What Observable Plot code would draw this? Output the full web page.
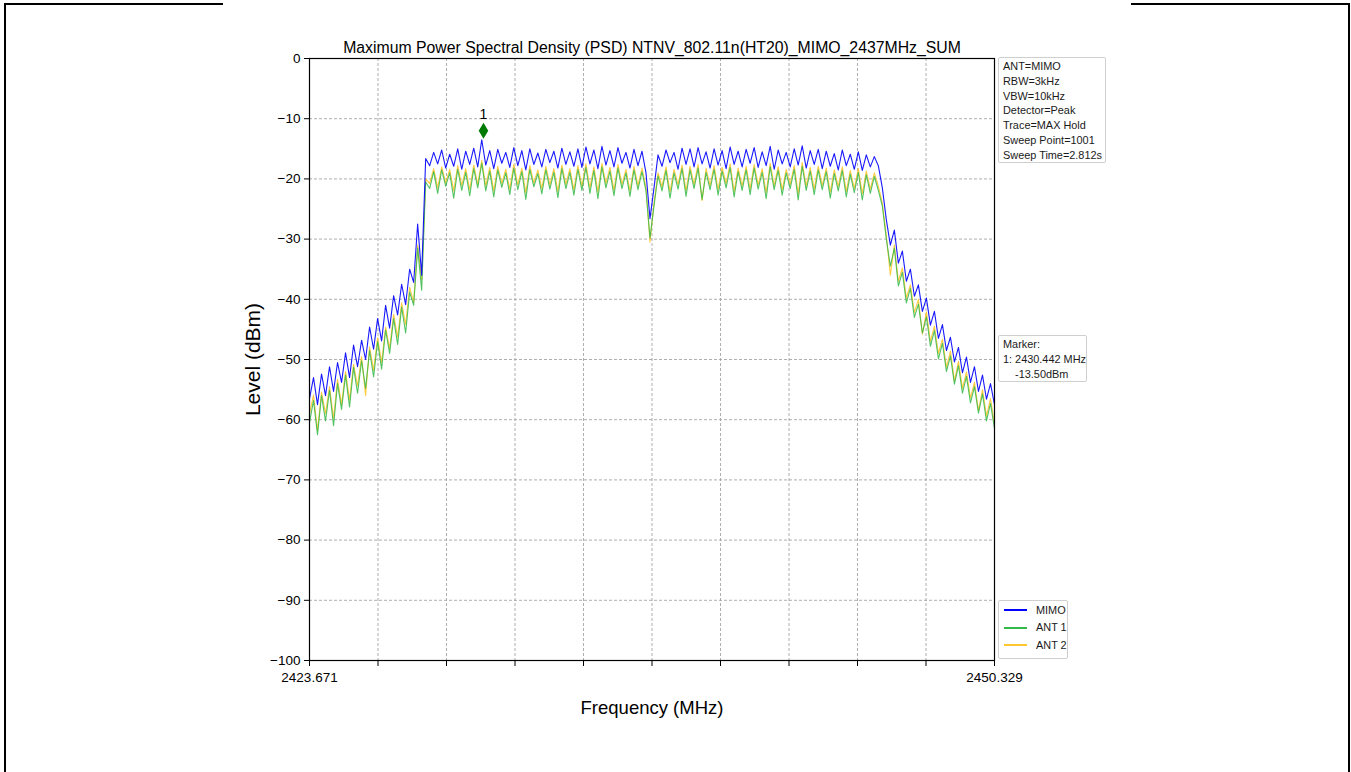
<!DOCTYPE html>
<html><head><meta charset="utf-8">
<script src="https://cdn.jsdelivr.net/npm/d3@7"></script>
<script src="https://cdn.jsdelivr.net/npm/@observablehq/plot@0.6"></script>
<style>
body{margin:0;background:#fff;font-family:"Liberation Sans",Arial,sans-serif;}
#page{position:relative;width:1351px;height:772px;overflow:hidden;background:#fff;}
#chart{position:absolute;left:0;top:0;}
.rule{position:absolute;background:#000;}
.box{position:absolute;box-sizing:border-box;background:rgba(255,255,255,0.85);border:1px solid #cfcfcf;border-radius:2px;font-size:10.9px;color:#1a1a1a;white-space:pre;}
.leg{display:flex;align-items:center;height:17.5px;}
.sw{width:23px;height:2px;margin-right:9px;}
</style></head><body><div id="page"><div id="chart"></div></div>
<script>
// ---- data ----
const freqStart = 2423.671, freqStop = 2450.329;
const xTickLabels = ["2423.671", "2450.329"];
const yTicks = [-100, -90, -80, -70, -60, -50, -40, -30, -20, -10, 0];
const seriesNames = ["MIMO", "ANT 1", "ANT 2"];
const titleText = "Maximum Power Spectral Density (PSD) NTNV_802.11n(HT20)_MIMO_2437MHz_SUM";
const xLabel = "Frequency (MHz)";
const yLabel = "Level (dBm)";
const markerFreq = [2430.442];
const markerLevel = [-13.50];
const markerName = ["1"];
const infoLines = ["ANT=MIMO", "RBW=3kHz", "VBW=10kHz", "Detector=Peak", "Trace=MAX Hold", "Sweep Point=1001", "Sweep Time=2.812s"];
const markerLines = ["Marker:", "1: 2430.442 MHz", "    -13.50dBm"];

const mimo = [
-56.5,-53.0,-57.5,-52.4,-56.0,-51.2,-55.3,-50.5,-53.8,-48.9,
-53.0,-47.6,-51.2,-46.8,-50.0,-44.6,-48.3,-43.2,-46.9,-41.0,
-44.8,-39.4,-42.6,-37.5,-40.9,-35.0,-37.2,-27.5,-36.0,-16.6,
-17.8,-15.6,-17.5,-15.2,-18.2,-15.9,-17.9,-15.0,-18.4,-15.4,
-17.6,-14.9,-18.0,-13.5,-17.7,-15.3,-18.3,-15.1,-17.4,-15.6,
-18.1,-14.8,-17.8,-15.3,-18.5,-15.0,-17.6,-15.7,-18.0,-15.1,
-17.3,-15.4,-18.2,-14.9,-17.6,-15.5,-17.9,-15.0,-18.1,-14.7,
-17.5,-15.2,-18.3,-14.6,-17.7,-15.3,-18.0,-14.8,-17.4,-15.6,
-18.2,-15.1,-17.8,-15.4,-19.0,-26.6,-21.5,-16.0,-17.9,-15.2,
-17.3,-15.6,-18.4,-14.9,-17.6,-15.0,-18.0,-14.8,-17.5,-15.5,
-18.2,-15.0,-17.7,-15.3,-18.3,-14.7,-17.6,-15.4,-18.0,-15.1,
-17.4,-14.8,-18.1,-15.5,-17.8,-14.6,-18.4,-15.2,-17.5,-15.6,
-18.0,-15.0,-17.7,-14.5,-18.2,-15.3,-17.6,-15.1,-18.3,-15.4,
-17.9,-15.8,-18.5,-15.2,-17.8,-15.9,-18.4,-15.5,-18.6,-16.0,
-18.0,-16.3,-17.8,-21.5,-26.8,-31.0,-28.5,-34.0,-32.0,-37.0,
-35.0,-39.5,-37.6,-42.0,-39.8,-44.3,-42.0,-46.5,-44.2,-48.5,
-46.3,-50.4,-48.0,-52.2,-49.6,-53.8,-51.2,-55.3,-52.6,-56.6,
-54.0,-57.5];

const ant1 = [
-60.5,-56.8,-62.5,-56.0,-60.2,-55.1,-61.0,-54.0,-58.3,-52.6,
-57.9,-51.3,-55.6,-50.2,-54.8,-48.5,-52.9,-47.0,-51.6,-45.1,
-49.0,-43.2,-47.5,-41.3,-45.6,-38.8,-41.0,-31.5,-38.5,-20.5,
-21.6,-18.8,-22.4,-18.5,-21.2,-19.0,-23.2,-18.4,-21.9,-18.9,
-22.8,-18.3,-21.5,-17.4,-22.0,-18.7,-23.0,-18.5,-21.4,-19.0,
-22.6,-18.2,-21.8,-18.8,-23.4,-18.4,-21.3,-19.1,-22.5,-18.5,
-21.7,-18.9,-23.1,-18.3,-21.6,-18.9,-22.7,-18.4,-21.9,-18.1,
-22.4,-18.6,-23.3,-18.0,-21.5,-18.7,-22.8,-18.2,-21.6,-19.0,
-22.9,-18.5,-21.8,-18.8,-22.0,-29.8,-24.5,-19.5,-22.0,-18.6,
-23.2,-19.0,-21.7,-18.3,-22.9,-18.5,-21.6,-18.2,-23.4,-18.9,
-21.8,-18.4,-22.7,-18.7,-21.5,-18.1,-23.0,-18.8,-21.9,-18.5,
-22.6,-18.2,-21.7,-18.9,-23.3,-18.0,-21.8,-18.6,-22.7,-19.0,
-21.6,-18.4,-23.5,-17.9,-21.9,-18.7,-22.6,-18.5,-21.8,-18.8,
-23.2,-19.1,-22.0,-18.6,-23.0,-19.2,-22.3,-18.9,-23.5,-19.3,
-22.4,-19.6,-21.9,-24.5,-30.0,-34.5,-31.5,-37.8,-35.5,-40.6,
-38.2,-43.0,-40.8,-45.6,-42.9,-47.8,-45.2,-49.9,-47.3,-52.0,
-49.4,-54.1,-51.0,-55.6,-52.8,-57.2,-54.5,-58.9,-55.7,-60.2,
-57.3,-61.5];

const ant2 = [
-59.0,-55.9,-61.8,-55.4,-59.0,-54.5,-59.8,-53.3,-57.5,-52.0,
-56.7,-50.8,-54.4,-49.5,-56.0,-47.9,-51.8,-46.4,-50.5,-44.6,
-48.2,-42.5,-46.3,-40.6,-44.2,-38.0,-40.5,-31.0,-36.8,-20.0,
-20.8,-18.3,-21.5,-18.0,-20.7,-18.4,-22.0,-17.8,-21.1,-18.3,
-21.8,-17.7,-20.9,-16.9,-21.2,-18.1,-22.0,-17.9,-20.8,-18.4,
-21.7,-17.6,-21.0,-18.2,-22.3,-17.8,-20.7,-18.5,-21.6,-17.9,
-21.0,-18.3,-22.1,-17.7,-20.9,-18.3,-21.8,-17.8,-21.2,-17.5,
-21.5,-18.0,-22.2,-17.4,-20.8,-18.1,-21.9,-17.6,-20.9,-18.4,
-22.0,-17.9,-21.1,-18.2,-21.4,-30.5,-24.0,-19.0,-21.3,-18.0,
-22.1,-18.4,-21.0,-17.7,-22.0,-17.9,-20.9,-17.6,-23.6,-18.3,
-21.1,-17.8,-21.8,-18.1,-20.8,-17.5,-22.1,-18.2,-21.2,-17.9,
-21.7,-17.6,-21.0,-18.3,-22.3,-17.4,-21.1,-18.0,-21.8,-18.4,
-20.9,-17.8,-22.5,-17.3,-21.2,-18.1,-21.7,-17.9,-21.1,-18.2,
-22.2,-18.5,-21.3,-18.0,-22.1,-18.6,-21.6,-18.3,-22.5,-18.7,
-21.7,-19.0,-21.2,-24.0,-29.5,-36.0,-31.0,-37.0,-34.8,-39.8,
-37.6,-42.2,-40.0,-45.8,-42.1,-47.0,-44.5,-49.0,-46.6,-51.3,
-48.6,-53.6,-50.3,-54.8,-52.1,-56.4,-53.8,-58.5,-55.0,-59.4,
-56.5,-60.8];

// ---- styles ----
const colors = {"MIMO": "#0000ff", "ANT 1": "#34b848", "ANT 2": "#ffc72e"};
const FONT = '"Liberation Sans", Arial, sans-serif';

// sweep points are evenly spaced between start and stop
const sweep = (n) => d3.range(n).map(i => freqStart + i * (freqStop - freqStart) / (n - 1));
const toRows = (vals) => { const f = sweep(vals.length); return vals.map((v, i) => ({f: f[i], v})); };
const xTicks = d3.range(11).map(i => freqStart + i * (freqStop - freqStart) / 10);
const xFmt = (d) => Math.abs(d - freqStart) < 1e-6 ? xTickLabels[0] : Math.abs(d - freqStop) < 1e-6 ? xTickLabels[1] : "";

const thinDiamond = {draw(ctx, size) { const h = Math.sqrt(size); ctx.moveTo(0, -h); ctx.lineTo(h * 0.6, 0); ctx.lineTo(0, h); ctx.lineTo(-h * 0.6, 0); ctx.closePath(); }};

const gridStyle = {stroke: "#9a9a9a", strokeOpacity: 1, strokeWidth: 0.8, strokeDasharray: "3,2"};

const chart = Plot.plot({
  width: 1351, height: 772,
  marginLeft: 309, marginRight: 357, marginTop: 58, marginBottom: 112,
  style: {fontFamily: FONT, fontSize: "12px", background: "transparent", color: "#000"},
  x: {type: "linear", domain: [freqStart, freqStop]},
  y: {type: "linear", domain: [-100, 0]},
  marks: [
    Plot.gridY(yTicks, gridStyle),
    Plot.gridX(xTicks, gridStyle),
    Plot.line(toRows(ant2), {x: "f", y: "v", stroke: colors["ANT 2"], strokeWidth: 1.1, strokeOpacity: 0.9}),
    Plot.line(toRows(ant1), {x: "f", y: "v", stroke: colors["ANT 1"], strokeWidth: 1.1, strokeOpacity: 0.85}),
    Plot.line(toRows(mimo), {x: "f", y: "v", stroke: colors["MIMO"], strokeWidth: 1.1, strokeOpacity: 0.9}),
    Plot.frame({stroke: "#000", strokeWidth: 1.2}),
    Plot.axisY({ticks: yTicks, tickSize: 5, tickPadding: 4, tickFormat: d3.format("d"), fontSize: 13.5, label: null}),
    Plot.axisX({ticks: xTicks, tickSize: 6, tickPadding: 6, tickFormat: xFmt, fontSize: 13.5, label: null}),
    Plot.dot(markerFreq.map((f, i) => ({f, v: markerLevel[i]})), {x: "f", y: "v", symbol: thinDiamond, r: 4.5, fill: "#007a00", stroke: "none", dy: -9}),
    Plot.text(markerFreq.map((f, i) => ({f, v: markerLevel[i], t: markerName[i]})), {x: "f", y: "v", text: "t", dy: -25, fontSize: 14}),
    Plot.text([titleText], {frameAnchor: "top", dy: -17, fontSize: 15.8, textAnchor: "middle"}),
    Plot.text([xLabel], {frameAnchor: "bottom", dy: 53, fontSize: 18.5, textAnchor: "middle"}),
    Plot.text([yLabel], {frameAnchor: "left", dx: -56, rotate: -90, fontSize: 21, textAnchor: "middle"})
  ]
});
document.getElementById("chart").appendChild(chart);

// ---- page frame lines and annotation boxes ----
const page = document.getElementById("page");
function rule(l, t, w, h) { const d = document.createElement("div"); d.className = "rule"; Object.assign(d.style, {left: l + "px", top: t + "px", width: w + "px", height: h + "px"}); page.appendChild(d); }
rule(4, 3, 219, 2); rule(4, 3, 2, 769); rule(1131, 3, 219, 2); rule(1348, 3, 2, 769);

function box(l, t, w, h, padT, lh) {
  const d = document.createElement("div"); d.className = "box";
  Object.assign(d.style, {left: l + "px", top: t + "px", width: w + "px", height: h + "px", paddingTop: padT + "px", paddingLeft: "4px", lineHeight: lh + "px"});
  page.appendChild(d); return d;
}
const info = box(998, 57, 108, 106, 1.3, 14.7);
infoLines.forEach(s => { const r = document.createElement("div"); r.textContent = s; info.appendChild(r); });
const mk = box(998, 335, 89, 47, 0.5, 15);
markerLines.forEach(s => { const r = document.createElement("div"); r.textContent = s; mk.appendChild(r); });
const lg = box(998, 600, 70, 59, 0.5, 17.5);
lg.style.paddingLeft = "5px";
seriesNames.forEach(s => {
  const r = document.createElement("div"); r.className = "leg";
  const sw = document.createElement("span"); sw.className = "sw"; sw.style.background = colors[s];
  const t = document.createElement("span"); t.textContent = s;
  r.appendChild(sw); r.appendChild(t); lg.appendChild(r);
});
</script>
</body></html>
